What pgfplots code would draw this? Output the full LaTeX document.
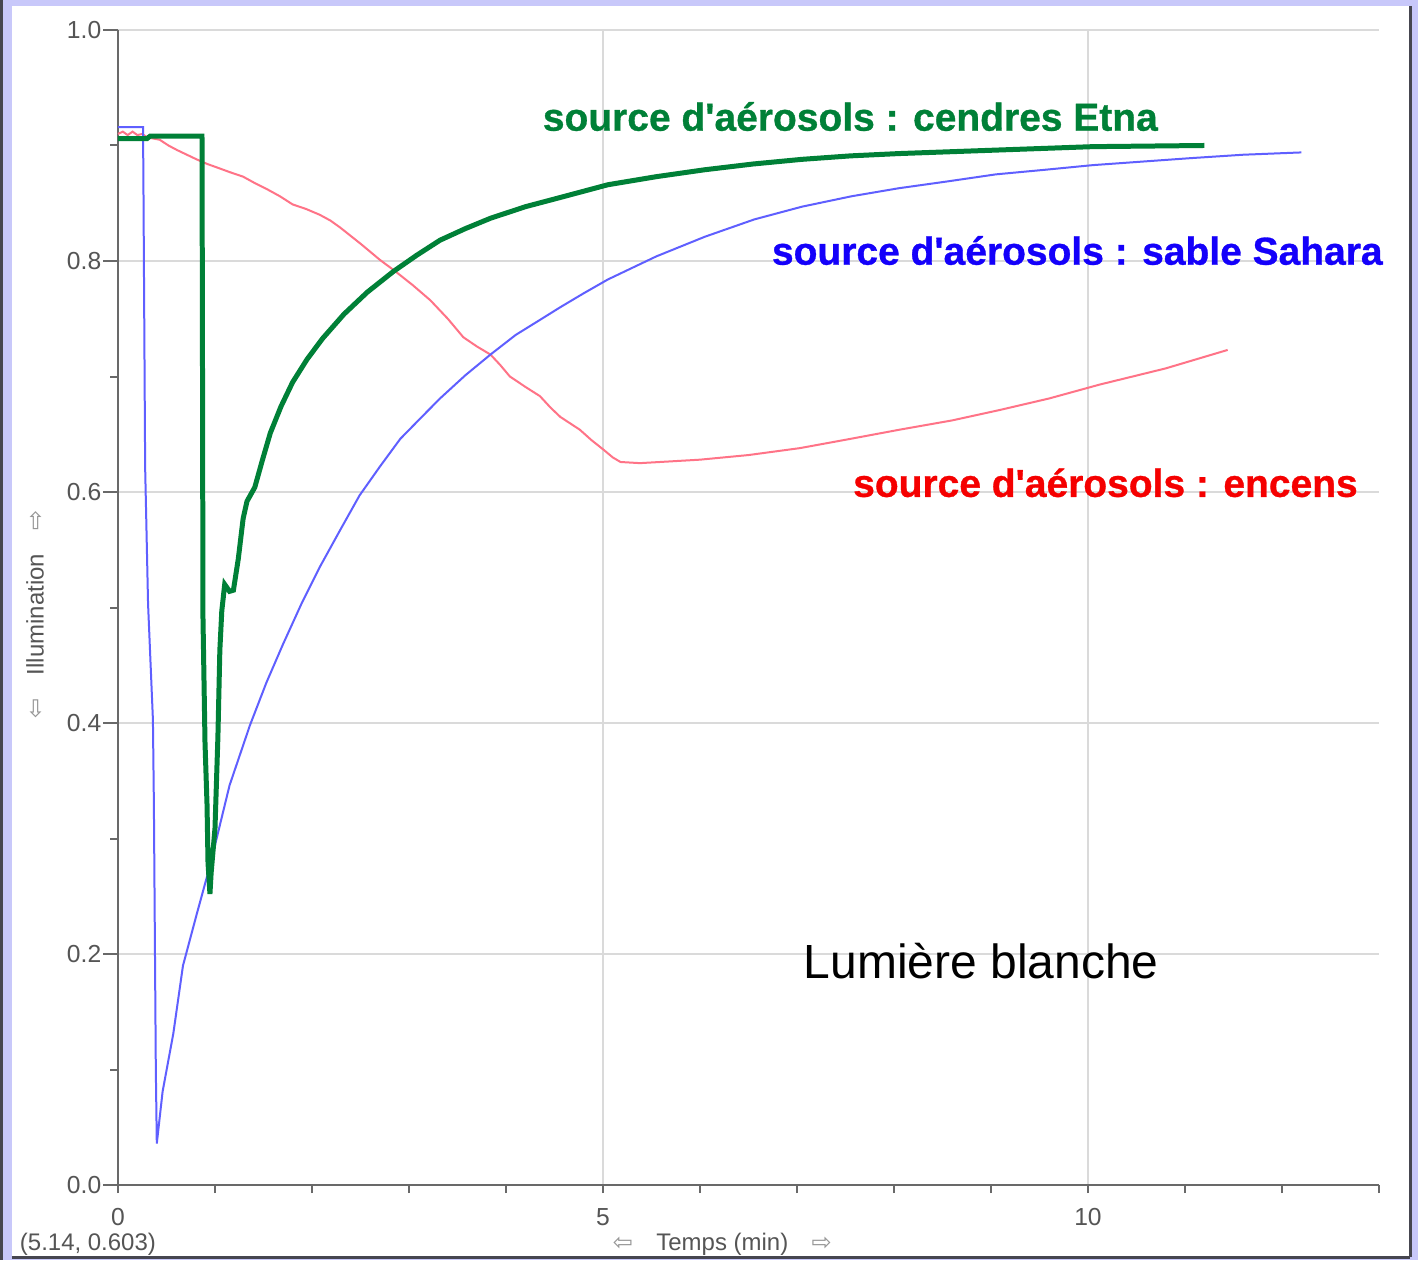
\documentclass[border=0pt]{standalone}
\usepackage{pgfplots}
\pgfplotsset{compat=1.18}
\usepackage{fontspec}
\setmainfont{Liberation Sans}
\newfontfamily\heavyfont[FakeBold=0.8]{Liberation Sans Bold}
\newfontfamily\arrowfont{DejaVu Sans}
\usetikzlibrary{backgrounds}
\definecolor{etna}{RGB}{0,128,55}
\definecolor{sahara}{RGB}{95,95,255}
\definecolor{saharatext}{RGB}{20,0,250}
\definecolor{encens}{RGB}{255,115,135}
\definecolor{encenstext}{RGB}{245,0,0}
\definecolor{axisgray}{RGB}{105,105,105}
\definecolor{gridgray}{RGB}{218,218,218}
\definecolor{labelgray}{RGB}{85,85,85}
\definecolor{arrowgray}{RGB}{150,150,150}
\definecolor{lavender}{RGB}{200,200,250}
\definecolor{framedark}{RGB}{70,70,80}
\begin{document}
\begin{tikzpicture}
\begin{axis}[
  scale only axis, width=378.6pt, height=346.8pt,
  xmin=0, xmax=13, ymin=0, ymax=1,
  axis x line=bottom, axis y line=left,
  axis line style={-, draw=axisgray, line width=0.6pt},
  xtick={0,5,10}, ytick={0,0.2,0.4,0.6,0.8,1.0},
  minor xtick={0,1,...,13}, minor ytick={0.1,0.3,0.5,0.7,0.9},
  tick align=outside,
  major tick length=4.5pt, minor tick length=2.4pt,
  major x tick style={draw=none},
  tick style={draw=axisgray, line width=0.6pt},
  grid=major, major grid style={draw=gridgray, line width=0.6pt},
  ticklabel style={font=\fontsize{7.4}{8}\selectfont, text=labelgray},
  yticklabel style={xshift=3pt, /pgf/number format/.cd, fixed, fixed zerofill, precision=1},
  xticklabel style={yshift=1pt},
  /pgf/number format/assume math mode=true,
  no markers, clip=false,
]
% Encens (red)
\addplot[encens, line width=0.6pt] coordinates {
(0,0.91) (0.05,0.912) (0.1,0.909) (0.15,0.912) (0.2,0.909) (0.25,0.91) (0.3,0.907)
(0.43,0.905) (0.52,0.9) (0.61,0.896) (0.71,0.892) (0.81,0.888) (0.92,0.884) (1.02,0.881)
(1.15,0.877) (1.29,0.873) (1.42,0.867) (1.54,0.862) (1.67,0.856) (1.80,0.849)
(1.94,0.845) (2.08,0.84) (2.19,0.835) (2.29,0.829) (2.50,0.815) (2.70,0.801)
(2.86,0.791) (3.04,0.779) (3.22,0.766) (3.40,0.750) (3.56,0.734) (3.70,0.726)
(3.84,0.719) (3.94,0.710) (4.04,0.700) (4.20,0.691) (4.35,0.683) (4.46,0.673)
(4.56,0.665) (4.76,0.654) (4.88,0.645) (5.0,0.637) (5.10,0.630) (5.18,0.626)
(5.38,0.625) (5.59,0.626) (6.0,0.628) (6.5,0.632) (7.03,0.638) (7.55,0.646)
(8.06,0.654) (8.6,0.662) (9.09,0.671) (9.6,0.681) (10.12,0.693) (10.8,0.707)
(11.44,0.723)
};
% Sahara (blue)
\addplot[sahara, line width=0.6pt] coordinates {
(0,0.916) (0.258,0.916) (0.262,0.87) (0.28,0.621) (0.31,0.503) (0.36,0.403)
(0.37,0.33) (0.38,0.215) (0.39,0.10) (0.40,0.036) (0.46,0.081) (0.57,0.131)
(0.67,0.190) (0.81,0.234) (0.95,0.277) (1.15,0.346) (1.36,0.398) (1.53,0.435)
(1.70,0.468) (1.89,0.503) (2.08,0.535) (2.29,0.567) (2.49,0.597) (2.70,0.622)
(2.91,0.646) (3.12,0.664) (3.32,0.681) (3.58,0.701) (3.84,0.719) (4.10,0.736)
(4.35,0.749) (4.56,0.760) (4.80,0.772) (5.05,0.784) (5.55,0.804) (6.05,0.821)
(6.56,0.836) (7.05,0.847) (7.56,0.856) (8.05,0.863) (8.56,0.869) (9.05,0.875)
(9.56,0.879) (10.05,0.883) (10.55,0.886) (11.05,0.889) (11.6,0.892) (12.2,0.894)
};
% Etna (green)
\addplot[etna, line width=1.5pt] coordinates {
(0,0.906) (0.3,0.906) (0.33,0.908) (0.866,0.908) (0.87,0.76) (0.876,0.492)
(0.897,0.383) (0.918,0.329) (0.928,0.279) (0.948,0.252) (0.96,0.27) (1.0,0.309)
(1.03,0.388) (1.05,0.463) (1.07,0.497) (1.10,0.520) (1.15,0.514) (1.19,0.515)
(1.24,0.542) (1.29,0.577) (1.33,0.592) (1.41,0.604) (1.49,0.628) (1.57,0.651)
(1.68,0.674) (1.80,0.695) (1.95,0.715) (2.11,0.733) (2.33,0.754) (2.57,0.773)
(2.84,0.791) (3.08,0.805) (3.32,0.818) (3.58,0.828) (3.84,0.837) (4.20,0.847)
(4.56,0.855) (5.05,0.866) (5.55,0.873) (6.05,0.879) (6.55,0.884) (7.05,0.888)
(7.55,0.891) (8.05,0.893) (9.05,0.896) (10.05,0.899) (11.2,0.9)
};
\node[text=etna, font=\heavyfont\fontsize{11.7}{14}\selectfont] at (axis cs:7.55,0.925) {source d\textquotesingle aérosols : cendres Etna};
\node[text=saharatext, font=\heavyfont\fontsize{11.7}{14}\selectfont] at (axis cs:9.89,0.809) {source d\textquotesingle aérosols : sable Sahara};
\node[text=encenstext, font=\heavyfont\fontsize{11.7}{14}\selectfont] at (axis cs:10.18,0.608) {source d\textquotesingle aérosols : encens};
\node[text=black, font=\fontsize{14.4}{17}\selectfont] at (axis cs:8.90,0.194) {Lumière blanche};
\node[text=labelgray, font=\fontsize{7.2}{8}\selectfont] at (axis cs:6.23,-0.051) {{\arrowfont\color{arrowgray}⇦}\hspace{7pt}Temps (min)\hspace{7pt}{\arrowfont\color{arrowgray}⇨}};
\node[text=labelgray, rotate=90, font=\fontsize{7.2}{8}\selectfont] at (axis cs:-0.856,0.494) {{\arrowfont\color{arrowgray}⇦}\hspace{7pt}Illumination\hspace{7pt}{\arrowfont\color{arrowgray}⇨}};
\node[text=labelgray, font=\fontsize{7.2}{8}\selectfont] at (axis cs:-0.31,-0.051) {(5.14, 0.603)};
\coordinate (F0) at (axis cs:-1.2165,-0.06488);
\coordinate (F1) at (axis cs:13.402,1.02595);
\coordinate (W0) at (axis cs:-1.0928,-0.0623);
\coordinate (W1) at (axis cs:13.3196,1.02076);
\coordinate (D0) at (axis cs:-1.1856,1.02595);
\end{axis}
\begin{scope}[on background layer]
\fill[lavender] (F0) rectangle (F1);
\fill[white] (W0) rectangle (W1);
\fill[framedark] (F0) rectangle (D0);
\draw[framedark, line width=0.9pt] (W0 -| W1) -- (W1);
\draw[framedark, line width=0.9pt] (W0) -- (W0 -| W1);
\end{scope}
\pgfresetboundingbox
\path[use as bounding box] (F0) rectangle (F1);
\end{tikzpicture}
\end{document}
